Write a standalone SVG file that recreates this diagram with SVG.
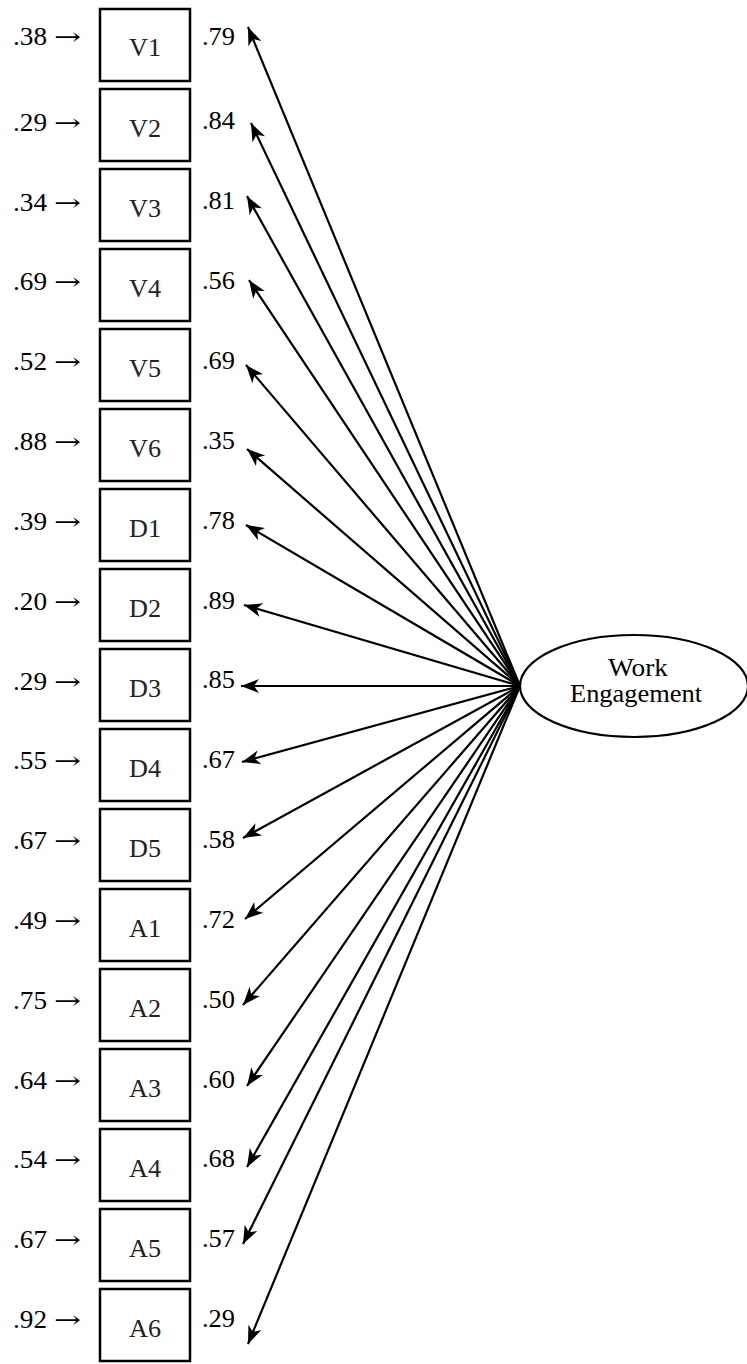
<svg xmlns="http://www.w3.org/2000/svg" width="747" height="1364" viewBox="0 0 747 1364">
<style>
text{font-family:"Liberation Serif","Times New Roman",serif;font-size:25px;fill:#000}
.box rect{fill:#fff;stroke:#000;stroke-width:2.5}
.box text.n{text-anchor:middle;fill:#222}
.box text.ar{font-family:"DejaVu Serif","Liberation Serif",serif;font-size:24px}
#conn line{stroke:#000;stroke-width:2.2;marker-end:url(#ah)}
</style>
<defs>
<marker id="ah" markerUnits="userSpaceOnUse" viewBox="-20 -9 21 18" markerWidth="21" markerHeight="18" refX="0" refY="0" orient="auto">
<path d="M0,0 L-18,-7 L-13,0 L-18,7 Z" fill="#000"/>
</marker>
</defs>
<rect width="747" height="1364" fill="#fff"/>
<g id="conn">
<line x1="520" y1="686" x2="248" y2="27"/>
<line x1="520" y1="686" x2="251" y2="123"/>
<line x1="520" y1="686" x2="247" y2="196"/>
<line x1="520" y1="686" x2="249" y2="280"/>
<line x1="520" y1="686" x2="246" y2="365"/>
<line x1="520" y1="686" x2="247" y2="449"/>
<line x1="520" y1="686" x2="246" y2="525"/>
<line x1="520" y1="686" x2="244" y2="605"/>
<line x1="520" y1="686" x2="241" y2="686"/>
<line x1="520" y1="686" x2="242" y2="762"/>
<line x1="520" y1="686" x2="243" y2="838"/>
<line x1="520" y1="686" x2="245" y2="919"/>
<line x1="520" y1="686" x2="243" y2="1005"/>
<line x1="520" y1="686" x2="247" y2="1086"/>
<line x1="520" y1="686" x2="247" y2="1167"/>
<line x1="520" y1="686" x2="243" y2="1244"/>
<line x1="520" y1="686" x2="248" y2="1344"/>
</g>
<g id="WE">
<ellipse cx="634" cy="686" rx="114" ry="51" fill="#fff" stroke="#000" stroke-width="2.2"/>
<text x="638" y="676" text-anchor="middle" textLength="60" lengthAdjust="spacingAndGlyphs">Work</text>
<text x="636" y="702" text-anchor="middle" textLength="132" lengthAdjust="spacingAndGlyphs">Engagement</text>
</g>
<g id="V1" class="box"><rect x="100" y="9" width="90" height="72"/><text class="n" x="145" y="56" textLength="32" lengthAdjust="spacingAndGlyphs">V1</text><text x="13" y="45" textLength="34" lengthAdjust="spacingAndGlyphs">.38</text><text class="ar" x="54" y="45" textLength="27" lengthAdjust="spacingAndGlyphs">→</text><text x="202" y="45" textLength="33" lengthAdjust="spacingAndGlyphs">.79</text></g>
<g id="V2" class="box"><rect x="100" y="89" width="90" height="72"/><text class="n" x="145" y="137" textLength="32" lengthAdjust="spacingAndGlyphs">V2</text><text x="13" y="131" textLength="34" lengthAdjust="spacingAndGlyphs">.29</text><text class="ar" x="54" y="131" textLength="27" lengthAdjust="spacingAndGlyphs">→</text><text x="202" y="129" textLength="33" lengthAdjust="spacingAndGlyphs">.84</text></g>
<g id="V3" class="box"><rect x="100" y="169" width="90" height="72"/><text class="n" x="145" y="217" textLength="32" lengthAdjust="spacingAndGlyphs">V3</text><text x="13" y="211" textLength="34" lengthAdjust="spacingAndGlyphs">.34</text><text class="ar" x="54" y="211" textLength="27" lengthAdjust="spacingAndGlyphs">→</text><text x="202" y="209" textLength="33" lengthAdjust="spacingAndGlyphs">.81</text></g>
<g id="V4" class="box"><rect x="100" y="249" width="90" height="72"/><text class="n" x="145" y="297" textLength="32" lengthAdjust="spacingAndGlyphs">V4</text><text x="13" y="290" textLength="34" lengthAdjust="spacingAndGlyphs">.69</text><text class="ar" x="54" y="290" textLength="27" lengthAdjust="spacingAndGlyphs">→</text><text x="202" y="289" textLength="33" lengthAdjust="spacingAndGlyphs">.56</text></g>
<g id="V5" class="box"><rect x="100" y="329" width="90" height="72"/><text class="n" x="145" y="377" textLength="32" lengthAdjust="spacingAndGlyphs">V5</text><text x="13" y="370" textLength="34" lengthAdjust="spacingAndGlyphs">.52</text><text class="ar" x="54" y="370" textLength="27" lengthAdjust="spacingAndGlyphs">→</text><text x="202" y="369" textLength="33" lengthAdjust="spacingAndGlyphs">.69</text></g>
<g id="V6" class="box"><rect x="100" y="409" width="90" height="72"/><text class="n" x="145" y="457" textLength="32" lengthAdjust="spacingAndGlyphs">V6</text><text x="13" y="450" textLength="34" lengthAdjust="spacingAndGlyphs">.88</text><text class="ar" x="54" y="450" textLength="27" lengthAdjust="spacingAndGlyphs">→</text><text x="202" y="449" textLength="33" lengthAdjust="spacingAndGlyphs">.35</text></g>
<g id="D1" class="box"><rect x="100" y="489" width="90" height="72"/><text class="n" x="145" y="537" textLength="32" lengthAdjust="spacingAndGlyphs">D1</text><text x="13" y="530" textLength="34" lengthAdjust="spacingAndGlyphs">.39</text><text class="ar" x="54" y="530" textLength="27" lengthAdjust="spacingAndGlyphs">→</text><text x="202" y="529" textLength="33" lengthAdjust="spacingAndGlyphs">.78</text></g>
<g id="D2" class="box"><rect x="100" y="569" width="90" height="72"/><text class="n" x="145" y="617" textLength="32" lengthAdjust="spacingAndGlyphs">D2</text><text x="13" y="610" textLength="34" lengthAdjust="spacingAndGlyphs">.20</text><text class="ar" x="54" y="610" textLength="27" lengthAdjust="spacingAndGlyphs">→</text><text x="202" y="609" textLength="33" lengthAdjust="spacingAndGlyphs">.89</text></g>
<g id="D3" class="box"><rect x="100" y="649" width="90" height="72"/><text class="n" x="145" y="697" textLength="32" lengthAdjust="spacingAndGlyphs">D3</text><text x="13" y="690" textLength="34" lengthAdjust="spacingAndGlyphs">.29</text><text class="ar" x="54" y="690" textLength="27" lengthAdjust="spacingAndGlyphs">→</text><text x="202" y="688" textLength="33" lengthAdjust="spacingAndGlyphs">.85</text></g>
<g id="D4" class="box"><rect x="100" y="729" width="90" height="72"/><text class="n" x="145" y="777" textLength="32" lengthAdjust="spacingAndGlyphs">D4</text><text x="13" y="769" textLength="34" lengthAdjust="spacingAndGlyphs">.55</text><text class="ar" x="54" y="769" textLength="27" lengthAdjust="spacingAndGlyphs">→</text><text x="202" y="768" textLength="33" lengthAdjust="spacingAndGlyphs">.67</text></g>
<g id="D5" class="box"><rect x="100" y="809" width="90" height="72"/><text class="n" x="145" y="857" textLength="32" lengthAdjust="spacingAndGlyphs">D5</text><text x="13" y="849" textLength="34" lengthAdjust="spacingAndGlyphs">.67</text><text class="ar" x="54" y="849" textLength="27" lengthAdjust="spacingAndGlyphs">→</text><text x="202" y="848" textLength="33" lengthAdjust="spacingAndGlyphs">.58</text></g>
<g id="A1" class="box"><rect x="100" y="889" width="90" height="72"/><text class="n" x="145" y="937" textLength="32" lengthAdjust="spacingAndGlyphs">A1</text><text x="13" y="929" textLength="34" lengthAdjust="spacingAndGlyphs">.49</text><text class="ar" x="54" y="929" textLength="27" lengthAdjust="spacingAndGlyphs">→</text><text x="202" y="928" textLength="33" lengthAdjust="spacingAndGlyphs">.72</text></g>
<g id="A2" class="box"><rect x="100" y="969" width="90" height="72"/><text class="n" x="145" y="1017" textLength="32" lengthAdjust="spacingAndGlyphs">A2</text><text x="13" y="1009" textLength="34" lengthAdjust="spacingAndGlyphs">.75</text><text class="ar" x="54" y="1009" textLength="27" lengthAdjust="spacingAndGlyphs">→</text><text x="202" y="1008" textLength="33" lengthAdjust="spacingAndGlyphs">.50</text></g>
<g id="A3" class="box"><rect x="100" y="1049" width="90" height="72"/><text class="n" x="145" y="1097" textLength="32" lengthAdjust="spacingAndGlyphs">A3</text><text x="13" y="1089" textLength="34" lengthAdjust="spacingAndGlyphs">.64</text><text class="ar" x="54" y="1089" textLength="27" lengthAdjust="spacingAndGlyphs">→</text><text x="202" y="1088" textLength="33" lengthAdjust="spacingAndGlyphs">.60</text></g>
<g id="A4" class="box"><rect x="100" y="1129" width="90" height="72"/><text class="n" x="145" y="1177" textLength="32" lengthAdjust="spacingAndGlyphs">A4</text><text x="13" y="1168" textLength="34" lengthAdjust="spacingAndGlyphs">.54</text><text class="ar" x="54" y="1168" textLength="27" lengthAdjust="spacingAndGlyphs">→</text><text x="202" y="1167" textLength="33" lengthAdjust="spacingAndGlyphs">.68</text></g>
<g id="A5" class="box"><rect x="100" y="1209" width="90" height="72"/><text class="n" x="145" y="1257" textLength="32" lengthAdjust="spacingAndGlyphs">A5</text><text x="13" y="1248" textLength="34" lengthAdjust="spacingAndGlyphs">.67</text><text class="ar" x="54" y="1248" textLength="27" lengthAdjust="spacingAndGlyphs">→</text><text x="202" y="1247" textLength="33" lengthAdjust="spacingAndGlyphs">.57</text></g>
<g id="A6" class="box"><rect x="100" y="1289" width="90" height="72"/><text class="n" x="145" y="1337" textLength="32" lengthAdjust="spacingAndGlyphs">A6</text><text x="13" y="1328" textLength="34" lengthAdjust="spacingAndGlyphs">.92</text><text class="ar" x="54" y="1328" textLength="27" lengthAdjust="spacingAndGlyphs">→</text><text x="202" y="1327" textLength="33" lengthAdjust="spacingAndGlyphs">.29</text></g>
</svg>
